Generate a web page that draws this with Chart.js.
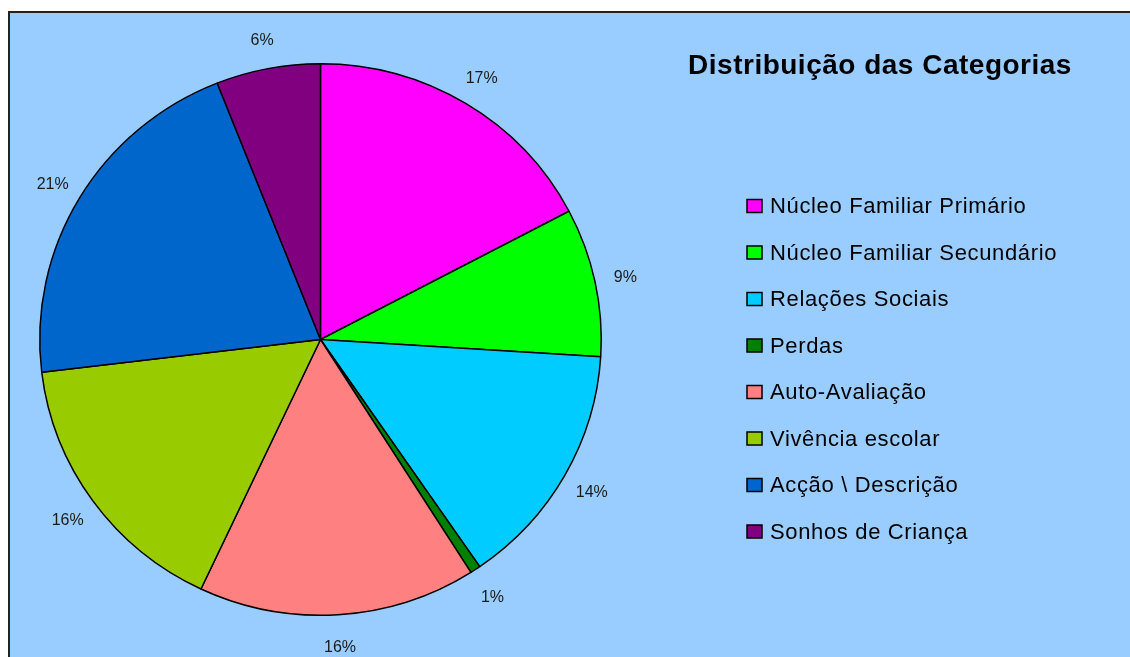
<!DOCTYPE html>
<html>
<head>
<meta charset="utf-8">
<script src="https://cdn.jsdelivr.net/npm/chart.js@4"></script>
<style>
html,body{margin:0;padding:0;background:#ffffff;overflow:hidden;}
#wrap{position:absolute;left:0;top:0;width:1130px;height:657px;}
</style>
</head>
<body>
<div id="wrap"><canvas id="c" width="1130" height="657"></canvas></div>
<script>
const chartTitle = "Distribuição das Categorias";
const categories = ["Núcleo Familiar Primário","Núcleo Familiar Secundário","Relações Sociais","Perdas","Auto-Avaliação","Vivência escolar","Acção \\ Descrição","Sonhos de Criança"];
const values = [17.3, 8.7, 14.4, 0.6, 16.0, 16.1, 20.9, 6.0];
const colors = ["#FF00FF","#00FF00","#00CCFF","#008000","#FF8080","#99CC00","#0066CC","#800080"];

const Y_SCALE = 276.5 / 281.5;

const bgPlugin = {
  id: 'bg',
  beforeDraw(chart){
    const ctx = chart.ctx;
    ctx.save();
    ctx.fillStyle = '#ffffff';
    ctx.fillRect(0,0,chart.width,chart.height);
    ctx.fillStyle = '#99CCFF';
    ctx.fillRect(9,12,chart.width,chart.height);
    ctx.strokeStyle = '#222222';
    ctx.lineWidth = 2;
    ctx.beginPath();
    ctx.moveTo(9, chart.height+5);
    ctx.lineTo(9, 12);
    ctx.lineTo(chart.width+5, 12);
    ctx.stroke();
    ctx.restore();
  },
  beforeDatasetsDraw(chart){
    const arc = chart.getDatasetMeta(0).data[0];
    const ctx = chart.ctx;
    ctx.save();
    ctx.translate(arc.x, arc.y);
    ctx.scale(1, Y_SCALE);
    ctx.translate(-arc.x, -arc.y);
  },
  afterDatasetsDraw(chart){
    chart.ctx.restore();
  }
};

const labelPlugin = {
  id: 'labels',
  afterDraw(chart){
    const ctx = chart.ctx;
    const meta = chart.getDatasetMeta(0);
    const data = chart.data.datasets[0].data;
    const total = data.reduce((a,b)=>a+b,0);
    ctx.save();
    ctx.font = '16px "Liberation Sans", Arial, sans-serif';
    ctx.fillStyle = '#1a1a1a';
    ctx.textAlign = 'center';
    ctx.textBaseline = 'middle';
    meta.data.forEach((arc,i)=>{
      const p = arc.getProps(['x','y','startAngle','endAngle','outerRadius'], true);
      const mid = (p.startAngle + p.endAngle)/2;
      const txt = Math.round(data[i]/total*100) + '%';
      const off = 31;
      ctx.fillText(txt, p.x + Math.cos(mid)*(p.outerRadius+off), p.y + 2 + Math.sin(mid)*(p.outerRadius*Y_SCALE+off));
    });
    // title
    ctx.font = 'bold 28px "Liberation Sans", Arial, sans-serif';
    ctx.letterSpacing = '0.5px';
    ctx.fillStyle = '#000000';
    ctx.textAlign = 'center';
    ctx.fillText(chartTitle, 880, 66);
    // legend
    ctx.font = '22px "Liberation Sans", Arial, sans-serif';
    ctx.letterSpacing = '0.65px';
    ctx.textAlign = 'left';
    categories.forEach((c,i)=>{
      const y = 206 + i*46.5;
      ctx.fillStyle = colors[i];
      ctx.fillRect(747, y-6.5, 15, 13);
      ctx.strokeStyle = '#000000';
      ctx.lineWidth = 1.5;
      ctx.strokeRect(747, y-6.5, 15, 13);
      ctx.fillStyle = '#000000';
      ctx.fillText(c, 770, y+1);
    });
    ctx.restore();
  }
};

new Chart(document.getElementById('c'), {
  type: 'pie',
  data: {
    labels: categories,
    datasets: [{
      data: values,
      backgroundColor: colors,
      borderColor: '#000000',
      borderWidth: 1.5
    }]
  },
  options: {
    responsive: false,
    animation: false,
    events: [],
    layout: { padding: { left: 39, top: 58, right: 528, bottom: 36 } },
    plugins: { legend: { display: false }, title: { display: false }, tooltip: { enabled: false } }
  },
  plugins: [bgPlugin, labelPlugin]
});
</script>
</body>
</html>
